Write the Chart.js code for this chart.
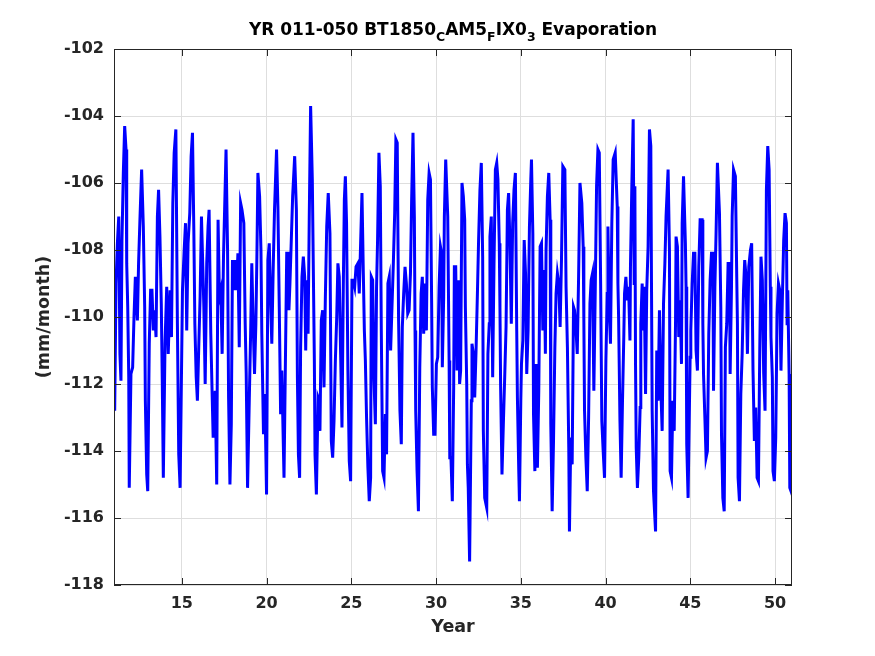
<!DOCTYPE html>
<html>
<head>
<meta charset="utf-8">
<script src="https://cdn.jsdelivr.net/npm/chart.js@4.4.1/dist/chart.umd.min.js"></script>
<style>
  html, body { margin: 0; padding: 0; background: #fff; }
  #wrap { width: 875px; height: 656px; }
</style>
</head>
<body>
<div id="wrap"><canvas id="chartEvap" width="875" height="656"></canvas></div>
<script>
// años (eje x) y evaporación mensual (mm/month)
const years = [
  11.00, 11.04, 11.12, 11.20, 11.28, 11.35, 11.41, 11.47, 11.55, 11.63, 11.71, 11.75, 11.81, 11.87, 11.90,
  12.00, 12.10, 12.18, 12.26, 12.38, 12.45, 12.53, 12.63, 12.73, 12.81, 12.85, 12.93, 12.99,
  13.08, 13.16, 13.24, 13.32, 13.40, 13.48, 13.56, 13.63, 13.71, 13.79, 13.85, 13.91,
  14.01, 14.11, 14.20, 14.31, 14.39, 14.47, 14.55, 14.65, 14.74, 14.82, 14.90,
  15.04, 15.14, 15.22, 15.29, 15.37, 15.47, 15.55, 15.63, 15.71, 15.77, 15.85, 15.92,
  16.00, 16.08, 16.16, 16.24, 16.30, 16.38, 16.47, 16.55, 16.61, 16.71, 16.79, 16.85, 16.97,
  17.06, 17.14, 17.22, 17.30, 17.38, 17.46, 17.54, 17.61, 17.70, 17.76, 17.84, 17.92, 17.99,
  18.07, 18.15, 18.23, 18.31, 18.39, 18.47, 18.55, 18.66, 18.74, 18.80, 18.88, 18.98,
  19.06, 19.13, 19.21, 19.29, 19.37, 19.43, 19.49, 19.59, 19.67, 19.72, 19.82, 19.90,
  20.00, 20.08, 20.16, 20.24, 20.31, 20.39, 20.47, 20.59, 20.67, 20.75, 20.83, 20.90,
  21.03, 21.19, 21.27, 21.32, 21.38, 21.46, 21.54, 21.66, 21.76, 21.82, 21.88, 21.95,
  22.01, 22.09, 22.17, 22.25, 22.31, 22.37, 22.45, 22.52, 22.60, 22.70, 22.76, 22.82, 22.86, 22.94,
  23.04, 23.11, 23.15, 23.23, 23.31, 23.39, 23.47, 23.55, 23.64, 23.74, 23.82, 23.90, 23.98,
  24.06, 24.14, 24.21, 24.29, 24.37, 24.45, 24.53, 24.59, 24.65, 24.72, 24.80, 24.88, 24.96,
  25.04, 25.12, 25.20, 25.28, 25.39, 25.47, 25.55, 25.63, 25.71, 25.77, 25.83, 25.90, 25.98,
  26.06, 26.14, 26.18, 26.26, 26.34, 26.42, 26.49, 26.55, 26.63, 26.71, 26.77, 26.85, 26.93,
  27.01, 27.08, 27.16, 27.24, 27.32, 27.40, 27.48, 27.56, 27.63, 27.71, 27.79, 27.87, 27.95,
  28.01, 28.09, 28.17, 28.25, 28.33, 28.41, 28.49, 28.56, 28.64, 28.72, 28.76, 28.80, 28.88, 28.96,
  29.04, 29.12, 29.19, 29.27, 29.35, 29.43, 29.51, 29.59, 29.67, 29.74, 29.78, 29.86, 29.94,
  30.02, 30.10, 30.18, 30.26, 30.33, 30.37, 30.45, 30.49, 30.57, 30.69, 30.77, 30.81, 30.88, 30.96,
  31.04, 31.08, 31.16, 31.24, 31.32, 31.39, 31.45, 31.53, 31.61, 31.69, 31.73, 31.81, 31.85, 31.90, 31.98,
  32.08, 32.12, 32.20, 32.28, 32.36, 32.44, 32.51, 32.59, 32.67, 32.75, 32.79, 32.87, 32.99,
  33.06, 33.14, 33.18, 33.26, 33.34, 33.42, 33.50, 33.58, 33.65, 33.73, 33.77, 33.81, 33.89, 33.97,
  34.05, 34.13, 34.21, 34.28, 34.36, 34.44, 34.52, 34.60, 34.68, 34.76, 34.80, 34.88, 34.92,
  35.00, 35.04, 35.12, 35.20, 35.28, 35.35, 35.43, 35.51, 35.59, 35.63, 35.71, 35.75, 35.83, 35.90, 35.98,
  36.06, 36.14, 36.22, 36.30, 36.38, 36.45, 36.49, 36.57, 36.65, 36.73, 36.77, 36.85, 36.93,
  37.01, 37.08, 37.16, 37.24, 37.32, 37.40, 37.48, 37.60, 37.67, 37.75, 37.83, 37.87, 37.95,
  38.03, 38.11, 38.17, 38.25, 38.33, 38.41, 38.49, 38.60, 38.68, 38.72, 38.76, 38.84, 38.92,
  39.00, 39.08, 39.15, 39.23, 39.31, 39.39, 39.47, 39.55, 39.63, 39.71, 39.78, 39.86, 39.94,
  40.02, 40.10, 40.14, 40.22, 40.29, 40.37, 40.45, 40.57, 40.69, 40.73, 40.77, 40.85, 40.92,
  41.00, 41.08, 41.12, 41.20, 41.28, 41.36, 41.44, 41.47, 41.55, 41.63, 41.69, 41.73, 41.77, 41.81, 41.88, 41.96,
  42.04, 42.08, 42.16, 42.24, 42.28, 42.36, 42.43, 42.51, 42.59, 42.67, 42.71, 42.75, 42.83, 42.95,
  43.02, 43.10, 43.18, 43.26, 43.34, 43.42, 43.50, 43.57, 43.69, 43.77, 43.81, 43.89, 43.97,
  44.05, 44.13, 44.16, 44.24, 44.32, 44.40, 44.48, 44.52, 44.60, 44.71, 44.75, 44.79, 44.87, 44.99,
  45.03, 45.11, 45.19, 45.27, 45.34, 45.42, 45.50, 45.58, 45.70, 45.74, 45.78, 45.86, 45.93,
  46.01, 46.09, 46.17, 46.25, 46.33, 46.37, 46.45, 46.52, 46.60, 46.72, 46.80, 46.84, 46.92,
  47.00, 47.07, 47.15, 47.23, 47.31, 47.35, 47.43, 47.47, 47.55, 47.66, 47.74, 47.78, 47.82, 47.90, 47.98,
  48.06, 48.14, 48.21, 48.29, 48.37, 48.45, 48.55, 48.62, 48.70, 48.78, 48.86, 48.94,
  49.02, 49.10, 49.17, 49.25, 49.33, 49.41, 49.49, 49.57, 49.65, 49.72, 49.76, 49.84, 49.88, 49.96,
  50.04, 50.12, 50.20, 50.28, 50.35, 50.43, 50.51, 50.59, 50.67, 50.71, 50.75, 50.83, 50.87, 50.94, 51.00
];
const evap = [
  -110.9, -112.8, -109.0, -107.8, -107.0, -111.1, -111.9, -107.7, -105.7, -104.3, -105.0, -108.4, -109.7, -111.8, -115.1,
  -111.7, -111.5, -110.0, -108.8, -110.1, -108.4, -107.1, -105.6, -107.3, -109.7, -112.5, -114.7, -115.2,
  -110.8, -109.2, -109.2, -110.4, -109.8, -110.6, -107.0, -106.2, -107.6, -109.6, -112.0, -114.8,
  -110.8, -109.1, -111.1, -109.2, -110.6, -106.6, -105.1, -104.4, -110.2, -114.1, -115.1,
  -109.2, -108.0, -107.2, -110.4, -107.8, -106.9, -105.2, -104.5, -107.4, -110.2, -111.8, -112.5,
  -110.9, -109.4, -107.0, -108.5, -109.7, -112.0, -108.4, -107.3, -106.8, -110.5, -112.3, -113.6, -112.2,
  -115.0, -107.1, -109.4, -109.2, -111.1, -108.2, -106.5, -105.0, -108.0, -112.4, -115.0, -113.2, -108.3,
  -109.2, -108.3, -109.2, -108.1, -110.9, -106.6, -106.8, -107.2, -110.2, -111.7, -115.1, -112.5,
  -110.5, -108.4, -110.2, -111.7, -110.2, -108.2, -105.7, -106.4, -108.0, -110.5, -113.5, -112.3,
  -115.3, -108.3, -107.8, -109.6, -110.8, -108.6, -106.8, -105.0, -106.7, -109.7, -112.9, -111.6,
  -114.8, -108.1, -108.1, -109.8, -109.0, -107.7, -106.4, -105.2, -106.8, -111.8, -114.1, -114.8,
  -110.9, -108.8, -108.2, -108.8, -111.0, -108.9, -110.5, -107.0, -103.7, -105.9, -108.6, -111.3, -114.1, -115.3,
  -112.4, -112.5, -113.4, -110.1, -109.8, -112.1, -109.4, -107.3, -106.3, -107.5, -113.7, -114.2, -113.1,
  -111.3, -110.0, -108.4, -108.8, -111.1, -113.3, -109.0, -106.5, -105.8, -107.2, -111.6, -114.3, -114.9,
  -108.9, -108.9, -109.1, -108.5, -108.4, -109.3, -107.8, -106.3, -108.7, -110.4, -111.3, -113.0, -114.5,
  -115.5, -114.8, -108.8, -108.9, -111.9, -113.2, -109.1, -107.7, -105.1, -106.1, -110.4, -114.6, -114.8,
  -112.9, -114.1, -109.0, -108.8, -111.0, -109.7, -108.4, -106.9, -104.7, -104.8, -110.1, -112.8, -113.8,
  -110.3, -109.3, -108.5, -109.0, -109.9, -109.8, -108.7, -106.5, -104.5, -107.0, -110.4, -112.8, -114.6, -115.8,
  -111.5, -109.3, -108.8, -110.5, -109.0, -110.4, -106.5, -105.7, -105.9, -109.6, -112.1, -113.5, -113.5,
  -111.4, -111.2, -109.1, -107.9, -108.1, -111.5, -109.4, -107.0, -105.3, -107.0, -111.3, -114.2, -114.2, -115.5,
  -112.1, -108.5, -108.5, -111.6, -108.9, -112.0, -111.6, -106.0, -106.4, -107.1, -109.7, -112.0, -114.4, -115.1, -117.3,
  -112.5, -110.8, -111.1, -112.4, -111.0, -109.3, -107.7, -106.2, -105.4, -108.2, -113.4, -115.4, -115.7,
  -111.1, -110.2, -107.6, -107.0, -111.8, -108.4, -105.6, -105.4, -105.9, -107.8, -109.7, -112.1, -114.7, -113.2,
  -111.8, -110.3, -106.8, -106.3, -107.8, -110.2, -107.2, -106.2, -105.7, -110.4, -112.4, -114.6, -115.5,
  -112.5, -111.4, -110.7, -107.7, -108.7, -111.7, -110.4, -107.3, -105.9, -105.3, -107.5, -112.9, -114.6, -111.4, -114.5,
  -112.2, -107.9, -107.8, -110.4, -108.6, -111.1, -108.0, -106.4, -105.7, -107.1, -113.2, -115.8, -113.7,
  -110.9, -109.3, -108.7, -109.0, -110.3, -108.3, -105.5, -105.6, -109.1, -110.9, -113.9, -116.4, -113.6,
  -114.4, -109.7, -109.8, -110.3, -111.1, -108.8, -106.0, -106.6, -107.9, -110.1, -112.8, -114.2, -115.2,
  -113.0, -109.6, -108.9, -108.7, -112.2, -109.3, -106.1, -105.0, -105.1, -109.0, -113.1, -114.0, -114.8,
  -111.3, -109.3, -107.3, -109.8, -110.8, -107.2, -105.3, -105.1, -106.7, -109.0, -110.0, -113.1, -114.8,
  -112.5, -110.5, -109.3, -108.8, -109.5, -109.1, -110.7, -108.5, -106.1, -104.1, -109.0, -106.1, -111.5, -113.9, -115.1, -114.2,
  -112.7, -110.2, -109.0, -110.4, -109.1, -112.3, -109.2, -107.9, -104.4, -104.9, -109.0, -112.8, -115.2, -116.4,
  -111.0, -112.5, -109.8, -112.1, -113.4, -109.6, -108.4, -107.0, -105.6, -108.0, -114.6, -114.8, -112.5,
  -113.4, -110.1, -107.6, -107.9, -110.6, -109.5, -111.4, -107.2, -105.8, -107.8, -109.1, -113.8, -115.4, -111.2,
  -110.4, -109.0, -108.1, -108.1, -111.0, -111.6, -108.5, -107.1, -107.1, -110.2, -111.7, -113.0, -114.2,
  -114.0, -110.5, -108.9, -108.1, -108.1, -112.2, -109.1, -107.5, -105.4, -106.9, -109.7, -113.5, -115.4,
  -115.8, -110.9, -110.2, -108.4, -108.4, -111.7, -109.1, -107.0, -105.6, -105.8, -108.8, -110.2, -114.8, -115.5, -112.3,
  -111.1, -109.2, -108.3, -108.8, -111.1, -108.5, -108.0, -107.8, -111.6, -113.7, -112.7, -114.8,
  -114.9, -110.9, -108.2, -108.9, -111.7, -112.8, -106.2, -104.9, -105.6, -109.1, -110.6, -111.8, -114.6, -114.9,
  -113.6, -109.9, -109.0, -109.2, -111.6, -109.5, -107.7, -106.9, -107.2, -110.2, -109.2, -111.7, -115.1, -115.2, -115.1
];
const xTicks = [15, 20, 25, 30, 35, 40, 45, 50];
const yTicks = [-118, -116, -114, -112, -110, -108, -106, -104, -102];
// título con subíndices: [texto, esSubindice]
const titleParts = [
  ['YR 011-050 BT1850', false], ['C', true], ['AM5', false], ['F', true],
  ['IX0', false], ['3', true], [' Evaporation', false]
];

const FAMILY = '"DejaVu Sans", sans-serif';
const INK = '#262626';

// Marco tipo MATLAB: caja, marcas hacia adentro y título con subíndices
const marcoMatlab = {
    id: 'marcoMatlab',
    afterDatasetsDraw(chart) {
        const { ctx, chartArea: a, scales: { x, y } } = chart;
        ctx.save();
        ctx.strokeStyle = INK;
        ctx.lineWidth = 1;
        ctx.strokeRect(a.left + 0.5, a.top + 0.5, a.right - a.left - 1, a.bottom - a.top - 1);
        ctx.beginPath();
        xTicks.forEach(v => {
            const px = Math.round(x.getPixelForValue(v)) + 0.5;
            ctx.moveTo(px, a.bottom); ctx.lineTo(px, a.bottom - 7);
            ctx.moveTo(px, a.top); ctx.lineTo(px, a.top + 7);
        });
        yTicks.forEach(v => {
            const py = Math.round(y.getPixelForValue(v)) + 0.5;
            ctx.moveTo(a.left, py); ctx.lineTo(a.left + 7, py);
            ctx.moveTo(a.right, py); ctx.lineTo(a.right - 7, py);
        });
        ctx.stroke();
        ctx.restore();
    },
    afterDraw(chart) {
        const { ctx, chartArea: a } = chart;
        const big = 'bold 17px ' + FAMILY, small = 'bold 12.5px ' + FAMILY;
        ctx.save();
        ctx.fillStyle = '#000';
        ctx.textBaseline = 'alphabetic';
        let total = 0;
        titleParts.forEach(([t, sub]) => { ctx.font = sub ? small : big; total += ctx.measureText(t).width; });
        let cx = (a.left + a.right) / 2 - total / 2;
        const base = 35;
        titleParts.forEach(([t, sub]) => {
            ctx.font = sub ? small : big;
            ctx.fillText(t, cx, sub ? base + 6 : base);
            cx += ctx.measureText(t).width;
        });
        ctx.restore();
    }
};

new Chart(document.getElementById('chartEvap'), {
    type: 'line',
    data: {
        datasets: [{
            data: years.map((yr, i) => ({ x: yr, y: evap[i] })),
            borderColor: '#0000ff',
            borderWidth: 3,
            pointRadius: 0,
            tension: 0,
            fill: false
        }]
    },
    options: {
        responsive: false,
        animation: false,
        devicePixelRatio: 1,
        layout: { padding: { left: 0, right: 83, top: 49, bottom: 0 } },
        plugins: { legend: { display: false }, tooltip: { enabled: false } },
        scales: {
            x: {
                type: 'linear', min: 11, max: 51,
                afterBuildTicks: s => { s.ticks = xTicks.map(v => ({ value: v })); },
                afterFit: s => { s.height = 71; },
                grid: { color: '#dedede', drawTicks: false },
                border: { display: false },
                ticks: { padding: 9, color: INK, maxRotation: 0, autoSkip: false,
                         font: { family: FAMILY, size: 16, weight: 'bold' }, callback: v => String(v) },
                title: { display: true, text: 'Year', color: INK, padding: { top: 0, bottom: 18 },
                         font: { family: FAMILY, size: 17.5, weight: 'bold' } }
            },
            y: {
                type: 'linear', min: -118, max: -102,
                afterBuildTicks: s => { s.ticks = yTicks.map(v => ({ value: v })); },
                afterFit: s => { s.width = 114; },
                grid: { color: '#dedede', drawTicks: false },
                border: { display: false },
                ticks: { padding: 10, color: INK, autoSkip: false,
                         font: { family: FAMILY, size: 16, weight: 'bold' }, callback: v => String(v) },
                title: { display: true, text: '(mm/month)', color: INK, padding: { top: 34, bottom: 0 },
                         font: { family: FAMILY, size: 17.5, weight: 'bold' } }
            }
        }
    },
    plugins: [marcoMatlab]
});
</script>
</body>
</html>
